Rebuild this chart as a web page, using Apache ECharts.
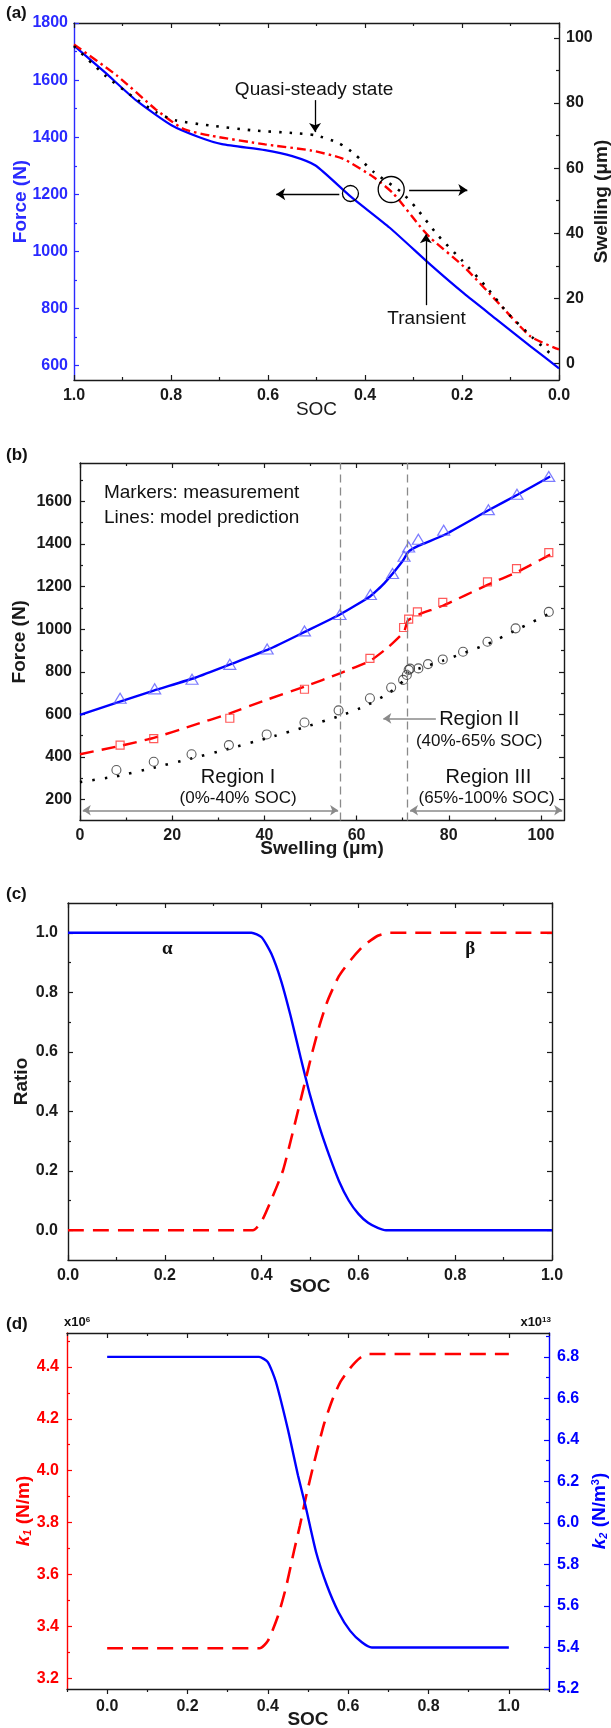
<!DOCTYPE html>
<html>
<head>
<meta charset="utf-8">
<script src="https://cdn.jsdelivr.net/npm/echarts@6/dist/echarts.min.js"></script>
<style>
  html, body { margin: 0; padding: 0; background: #fff; }
  #main { width: 611px; height: 1728px; }
</style>
</head>
<body>
<div id="main"></div>
<script>
// ---- (a) force + swelling vs SOC ----
var aSoc = [1.0, 0.936, 0.871, 0.799, 0.743, 0.695, 0.606, 0.55, 0.502, 0.43, 0.349, 0.264, 0.196, 0.127, 0.058, 0.0];
var aForce = [1721, 1627, 1528, 1442, 1401, 1376, 1355, 1334, 1301, 1193, 1083, 952, 853, 760, 667, 591];
var aSocTr = [1.0, 0.912, 0.831, 0.775, 0.719, 0.606, 0.51, 0.446, 0.382, 0.341, 0.285, 0.264, 0.196, 0.127, 0.058, 0.0];
var aSwellTr = [98.0, 88.5, 78.0, 72.1, 70.0, 67.3, 65.4, 62.9, 57.2, 52.1, 41.8, 38.4, 29.7, 18.9, 8.2, 4.3];
var aSocQs = [1.0, 0.936, 0.88, 0.831, 0.791, 0.719, 0.631, 0.55, 0.502, 0.454, 0.422, 0.382, 0.325, 0.293, 0.25, 0.199, 0.151, 0.106, 0.055, 0.02];
var aSwellQs = [97.5, 88.5, 82.1, 77.2, 74.7, 73.1, 71.6, 70.8, 70.1, 67.7, 64.4, 58.8, 52.6, 47.5, 39.4, 31.5, 23.7, 15.5, 8.0, 3.3];

// ---- (b) force vs swelling, markers + model lines ----
var bTriSw = [8.7, 16.2, 24.3, 32.5, 40.6, 48.7, 56.4, 63.0, 67.8, 70.3, 71.3, 73.4, 78.9, 88.6, 94.8, 101.7];
var bTriF = [676, 720, 765, 835, 907, 992, 1069, 1163, 1261, 1342, 1386, 1422, 1464, 1561, 1633, 1717];
var bSqSw = [8.7, 16.0, 32.5, 48.7, 62.9, 70.2, 71.3, 73.2, 78.7, 88.4, 94.7, 101.7];
var bSqF = [456, 486, 582, 718, 863, 1008, 1047, 1081, 1126, 1222, 1284, 1359];
var bCirSw = [7.9, 16.0, 24.2, 32.3, 40.5, 48.7, 56.1, 62.9, 67.5, 70.1, 70.9, 71.3, 71.6, 73.4, 75.5, 78.7, 83.1, 88.4, 94.5, 101.7];
var bCirF = [339, 378, 413, 456, 506, 562, 619, 676, 726, 762, 785, 809, 815, 816, 836, 858, 894, 941, 1004, 1081];
var bBlueSw = [0, 8, 16, 25, 33, 41, 49, 56.4, 63, 66, 70, 71.2, 73.5, 79, 88.6, 95, 102];
var bBlueF = [598, 655, 712, 772, 838, 906, 990, 1069, 1155, 1215, 1320, 1362, 1392, 1442, 1558, 1632, 1717];
var bRedSw = [0, 8.7, 16, 24, 32.5, 40, 48.7, 56.4, 62.9, 67, 70.3, 71.1, 73.5, 78.7, 88.4, 95, 102];
var bRedF = [413, 452, 490, 545, 605, 665, 730, 793, 851, 918, 988, 1040, 1069, 1110, 1208, 1270, 1350];
var bBlackSw = [0, 8, 16, 24, 32, 40.5, 48.7, 56.4, 62, 67, 70.3, 71.2, 73.5, 78.7, 88.4, 95, 102];
var bBlackF = [282, 310, 350, 392, 437, 488, 540, 593, 640, 700, 760, 800, 815, 852, 930, 1000, 1075];
var bDivide = [56.4, 71.1];

// ---- (c) phase ratio vs SOC ----
var cSocA = [0, 0.379, 0.40, 0.42, 0.44, 0.46, 0.48, 0.50, 0.52, 0.54, 0.56, 0.58, 0.60, 0.62, 0.64, 0.657, 1.0];
var cAlpha = [1, 1, 0.985, 0.93, 0.84, 0.72, 0.585, 0.455, 0.345, 0.25, 0.165, 0.1, 0.055, 0.025, 0.008, 0, 0];
var cSocB = [0, 0.382, 0.40, 0.423, 0.444, 0.46, 0.475, 0.49, 0.505, 0.52, 0.536, 0.56, 0.585, 0.61, 0.64, 0.665, 1.0];
var cBeta = [0, 0, 0.03, 0.114, 0.2, 0.3, 0.4, 0.5, 0.6, 0.69, 0.77, 0.855, 0.91, 0.955, 0.99, 1, 1];

// ---- (d) k1 / k2 vs SOC ----
var dSoc1 = [0, 0.38, 0.40, 0.425, 0.445, 0.465, 0.48, 0.495, 0.515, 0.54, 0.56, 0.58, 0.605, 0.63, 0.65, 1.0];
var dK1 = [3.317, 3.317, 3.345, 3.44, 3.55, 3.69, 3.79, 3.9, 4.03, 4.18, 4.27, 4.34, 4.395, 4.435, 4.449, 4.449];
var dSoc2 = [0, 0.378, 0.40, 0.42, 0.45, 0.475, 0.494, 0.52, 0.547, 0.576, 0.605, 0.634, 0.659, 1.0];
var dK2 = [6.80, 6.80, 6.775, 6.68, 6.45, 6.23, 6.08, 5.86, 5.70, 5.57, 5.48, 5.425, 5.40, 5.40];

// tick values
var socMajor = [0, 0.2, 0.4, 0.6, 0.8, 1.0];
var socMinor = [0.1, 0.3, 0.5, 0.7, 0.9];
var socMinorD = [-0.1, 0.1, 0.3, 0.5, 0.7, 0.9, 1.1];
var aForceMajor = [600, 800, 1000, 1200, 1400, 1600, 1800];
var aForceMinor = [700, 900, 1100, 1300, 1500, 1700];
var aSwellMajor = [0, 20, 40, 60, 80, 100];
var aSwellMinor = [10, 30, 50, 70, 90];
var bSwMajor = [0, 20, 40, 60, 80, 100];
var bSwMinor = [10, 30, 50, 70, 90];
var bForceMajor = [200, 400, 600, 800, 1000, 1200, 1400, 1600];
var bForceMinor = [300, 500, 700, 900, 1100, 1300, 1500, 1700];
var cRatioMajor = [0, 0.2, 0.4, 0.6, 0.8, 1.0];
var cRatioMinor = [0.1, 0.3, 0.5, 0.7, 0.9];
var dK1Major = [3.2, 3.4, 3.6, 3.8, 4.0, 4.2, 4.4];
var dK1Minor = [3.3, 3.5, 3.7, 3.9, 4.1, 4.3, 4.5];
var dK2Major = [5.2, 5.4, 5.6, 5.8, 6.0, 6.2, 6.4, 6.6, 6.8];
var dK2Minor = [5.3, 5.5, 5.7, 5.9, 6.1, 6.3, 6.5, 6.7, 6.9];

var FONT = 'Liberation Sans, Arial, Helvetica, sans-serif';
var BLUE = '#0000ff', RED = '#ff0000', INK = '#1a1a1a', GRAY = '#8a8a8a';

function zip(xs, ys) {
  return xs.map(function (x, i) { return [x, ys[i]]; });
}

var xAxes = [], yAxes = [];

// one axis (line / ticks / labels / name); minor axes only draw short ticks
function addAxis(list, o) {
  var col = o.color || INK;
  list.push({
    type: 'value', gridIndex: o.grid, position: o.pos,
    min: o.min, max: o.max, inverse: !!o.inverse,
    splitLine: { show: false },
    axisLine: { show: !o.minor, onZero: false, lineStyle: { color: col, width: 1.4 } },
    axisTick: {
      show: true, inside: !o.outside, length: o.minor ? 3 : 5,
      customValues: o.ticks, lineStyle: { color: col, width: 1.2 }
    },
    axisLabel: o.labels ? {
      show: true, customValues: o.labels, margin: o.margin,
      formatter: function (v) { return v.toFixed(o.dec); },
      color: o.labelColor || col, fontFamily: FONT, fontWeight: 'bold', fontSize: 16
    } : { show: false },
    name: o.name || '', nameLocation: 'middle', nameGap: o.gap || 0,
    nameRotate: o.rot, nameMoveOverlap: false,
    nameTextStyle: Object.assign({
      color: o.nameColor || col, fontFamily: FONT, fontWeight: o.nameWeight || 'bold', fontSize: 19
    }, o.nameStyle || {})
  });
  return list.length - 1;
}

// full box: bottom/top x and left/right y, major + minor ticks
function box(g, o) {
  var ax = {};
  ax.x = addAxis(xAxes, Object.assign({ grid: g, pos: 'bottom', ticks: o.xMajor, labels: o.xMajor,
    dec: o.xDec, margin: o.xMargin, outside: o.xOut }, o.x));
  addAxis(xAxes, { grid: g, pos: 'bottom', min: o.x.min, max: o.x.max, inverse: o.x.inverse,
    minor: true, ticks: o.xMinor, outside: o.xOut });
  addAxis(xAxes, { grid: g, pos: 'top', min: o.x.min, max: o.x.max, inverse: o.x.inverse, ticks: o.xMajor });
  addAxis(xAxes, { grid: g, pos: 'top', min: o.x.min, max: o.x.max, inverse: o.x.inverse, minor: true, ticks: o.xMinor });
  ax.yL = addAxis(yAxes, Object.assign({ grid: g, pos: 'left', ticks: o.yMajor, labels: o.yMajor,
    dec: o.yDec, margin: o.yMargin, rot: 90 }, o.yL));
  addAxis(yAxes, { grid: g, pos: 'left', min: o.yL.min, max: o.yL.max, minor: true, ticks: o.yMinor, color: o.yL.color });
  var r = o.yR || { min: o.yL.min, max: o.yL.max };
  ax.yR = addAxis(yAxes, Object.assign({ grid: g, pos: 'right', ticks: o.yRMajor || o.yMajor,
    labels: o.yR ? o.yRMajor : null, dec: o.yRDec, margin: o.yRMargin, rot: 90 }, r));
  addAxis(yAxes, { grid: g, pos: 'right', min: r.min, max: r.max, minor: true,
    ticks: o.yRMinor || o.yMinor, color: r.color });
  return ax;
}

var grids = [
  { left: 74, right: 52, top: 23, height: 357 },
  { left: 80, right: 47, top: 463, height: 357.5 },
  { left: 68, right: 59, top: 903, height: 357 },
  { left: 67, right: 62, top: 1333, height: 356 }
];
grids.forEach(function (g) { g.outerBoundsMode = 'none'; g.containLabel = false; });

var A = box(0, {
  x: { min: 0, max: 1, inverse: true, name: 'SOC', gap: 20, nameWeight: 'normal' },
  xMajor: socMajor, xMinor: socMinor, xDec: 1, xMargin: 8,
  yL: { min: 550, max: 1800, color: '#2a2aff', name: 'Force (N)', gap: 44 },
  yMajor: aForceMajor, yMinor: aForceMinor, yDec: 0, yMargin: 6,
  yR: { min: -5.1, max: 104.6, name: 'Swelling (\u03bcm)', gap: 33 },
  yRMajor: aSwellMajor, yRMinor: aSwellMinor, yRDec: 0, yRMargin: 7
});
var B = box(1, {
  x: { min: 0, max: 105, name: 'Swelling (\u03bcm)', gap: 19 },
  xMajor: bSwMajor, xMinor: bSwMinor, xDec: 0, xMargin: 7,
  yL: { min: 102, max: 1780, name: 'Force (N)', gap: 51 },
  yMajor: bForceMajor, yMinor: bForceMinor, yDec: 0, yMargin: 8
});
var C = box(2, {
  x: { min: 0, max: 1, name: 'SOC', gap: 17 },
  xMajor: socMajor, xMinor: socMinor, xDec: 1, xMargin: 8,
  yL: { min: -0.1, max: 1.1, name: 'Ratio', gap: 37 },
  yMajor: cRatioMajor, yMinor: cRatioMinor, yDec: 1, yMargin: 10
});
var D = box(3, {
  x: { min: -0.1, max: 1.1, name: 'SOC', gap: 21 },
  xMajor: socMajor, xMinor: socMinorD, xDec: 1, xMargin: 10, xOut: true,
  yL: { min: 3.16, max: 4.53, color: RED, name: '{i|k}{s1|1} (N/m)', gap: 34,
    nameStyle: { rich: {
      i: { fontStyle: 'italic', fontWeight: 'bold', fontSize: 19, color: RED, fontFamily: FONT },
      s1: { fontStyle: 'italic', fontWeight: 'bold', fontSize: 11, color: RED, fontFamily: FONT, verticalAlign: 'bottom' }
    } } },
  yMajor: dK1Major, yMinor: dK1Minor, yDec: 1, yMargin: 8,
  yR: { min: 5.2, max: 6.915, color: BLUE, name: '{i|k}{s1|2} (N/m{s2|3})', gap: 41,
    nameStyle: { rich: {
      i: { fontStyle: 'italic', fontWeight: 'bold', fontSize: 19, color: BLUE, fontFamily: FONT },
      s1: { fontStyle: 'italic', fontWeight: 'bold', fontSize: 11, color: BLUE, fontFamily: FONT, verticalAlign: 'bottom' },
      s2: { fontWeight: 'bold', fontSize: 11, color: BLUE, fontFamily: FONT, verticalAlign: 'top' }
    } } },
  yRMajor: dK2Major, yRMinor: dK2Minor, yRDec: 1, yRMargin: 8
});

// annotations, kept in data coordinates
var aArrows = [
  [0.503, 1530, 0.503, 1418],   // quasi-steady state pointer
  [0.453, 1200, 0.583, 1200],   // left arrow -> force axis
  [0.309, 1215, 0.189, 1215],   // right arrow -> swelling axis
  [0.2745, 812, 0.2745, 1060]   // transient pointer
];
var aRings = [[0.43, 1203, 16], [0.346, 1217, 26]];
var bDouble = [[0.6, 150, 56.0, 150], [71.6, 150, 104.6, 150]];
var bSingle = [[77.2, 581, 65.8, 581]];

function textPt(x, y, txt, size, extra) {
  return {
    coord: [x, y], symbol: 'circle', symbolSize: 0,
    label: Object.assign({ show: true, position: 'inside', formatter: txt, color: '#111',
      fontFamily: FONT, fontSize: size, textBorderWidth: 0 }, extra || {})
  };
}

var line = function (o) {
  return Object.assign({ type: 'line', symbol: 'none', showSymbol: false, animation: false,
    smooth: 0.2, z: 3 }, o);
};
var marker = function (o) {
  return Object.assign({ type: 'scatter', animation: false, z: 4 }, o);
};

var series = [
  // (a)
  line({ xAxisIndex: A.x, yAxisIndex: A.yL, data: zip(aSoc, aForce),
    lineStyle: { color: BLUE, width: 2.2 },
    markLine: { silent: true, animation: false, symbol: ['none', 'arrow'], symbolSize: 9,
      label: { show: false }, lineStyle: { color: '#000', width: 1.3, type: 'solid' },
      data: aArrows.map(function (a) { return [{ coord: [a[0], a[1]] }, { coord: [a[2], a[3]] }]; }) },
    markPoint: { silent: true, animation: false,
      data: aRings.map(function (r) {
        return { coord: [r[0], r[1]], symbol: 'circle', symbolSize: r[2], label: { show: false },
          itemStyle: { color: 'rgba(0,0,0,0)', borderColor: '#000', borderWidth: 1.3 } };
      }).concat([
        textPt(0.505, 1567, 'Quasi-steady state', 19),
        textPt(0.273, 766, 'Transient', 19)
      ]) }
  }),
  line({ xAxisIndex: A.x, yAxisIndex: A.yR, data: zip(aSocTr, aSwellTr),
    lineStyle: { color: RED, width: 2.4, type: [9, 4, 2.5, 4] } }),
  line({ xAxisIndex: A.x, yAxisIndex: A.yR, data: zip(aSocQs, aSwellQs),
    lineStyle: { color: '#000', width: 2.6, type: [2.5, 8] } }),

  // (b)
  line({ xAxisIndex: B.x, yAxisIndex: B.yL, data: zip(bBlueSw, bBlueF), smooth: 0.15,
    lineStyle: { color: BLUE, width: 2.4 },
    markLine: { silent: true, animation: false, symbol: ['none', 'none'],
      label: { show: false }, lineStyle: { color: GRAY, width: 1.3, type: [8, 5] },
      data: bDivide.map(function (v) { return { xAxis: v }; })
        .concat(bDouble.map(function (a) {
          return [{ coord: [a[0], a[1]], symbol: 'arrow', symbolSize: 8, lineStyle: { type: 'solid', width: 1.6 } },
                  { coord: [a[2], a[3]], symbol: 'arrow', symbolSize: 8 }];
        }))
        .concat(bSingle.map(function (a) {
          return [{ coord: [a[0], a[1]], symbol: 'none', lineStyle: { type: 'solid', width: 1.6 } },
                  { coord: [a[2], a[3]], symbol: 'arrow', symbolSize: 8 }];
        })) },
    markPoint: { silent: true, animation: false, data: [
      textPt(5.2, 1641, 'Markers: measurement', 19, { align: 'left' }),
      textPt(5.2, 1523, 'Lines: model prediction', 19, { align: 'left' }),
      textPt(34.3, 303, 'Region I', 20),
      textPt(34.3, 205, '(0%-40% SOC)', 17),
      textPt(86.6, 575, 'Region II', 20),
      textPt(86.6, 472, '(40%-65% SOC)', 17),
      textPt(88.6, 303, 'Region III', 20),
      textPt(88.2, 205, '(65%-100% SOC)', 17)
    ] }
  }),
  line({ xAxisIndex: B.x, yAxisIndex: B.yL, data: zip(bRedSw, bRedF), smooth: 0.15,
    lineStyle: { color: RED, width: 2.4, type: [14, 8] } }),
  line({ xAxisIndex: B.x, yAxisIndex: B.yL, data: zip(bBlackSw, bBlackF), smooth: 0.15,
    lineStyle: { color: '#000', width: 2.6, type: [2.5, 10] } }),
  marker({ xAxisIndex: B.x, yAxisIndex: B.yL, data: zip(bTriSw, bTriF), symbol: 'triangle',
    symbolSize: [12, 10], itemStyle: { color: 'rgba(0,0,0,0)', borderColor: '#5b5bff', borderWidth: 1.2 } }),
  marker({ xAxisIndex: B.x, yAxisIndex: B.yL, data: zip(bSqSw, bSqF), symbol: 'rect',
    symbolSize: 8, itemStyle: { color: 'rgba(0,0,0,0)', borderColor: '#ff3030', borderWidth: 1.2 } }),
  marker({ xAxisIndex: B.x, yAxisIndex: B.yL, data: zip(bCirSw, bCirF), symbol: 'circle',
    symbolSize: 9, itemStyle: { color: 'rgba(0,0,0,0)', borderColor: '#333', borderWidth: 1.1 } }),

  // (c)
  line({ xAxisIndex: C.x, yAxisIndex: C.yL, data: zip(cSocA, cAlpha),
    lineStyle: { color: BLUE, width: 2.4 },
    markPoint: { silent: true, animation: false, data: [
      textPt(0.205, 0.945, '\u03b1', 19, { fontFamily: 'Liberation Serif, Times New Roman, serif', fontWeight: 'bold' }),
      textPt(0.831, 0.945, '\u03b2', 19, { fontFamily: 'Liberation Serif, Times New Roman, serif', fontWeight: 'bold' })
    ] } }),
  line({ xAxisIndex: C.x, yAxisIndex: C.yL, data: zip(cSocB, cBeta),
    lineStyle: { color: RED, width: 2.6, type: [16, 9] } }),

  // (d)
  line({ xAxisIndex: D.x, yAxisIndex: D.yL, data: zip(dSoc1, dK1),
    lineStyle: { color: RED, width: 2.6, type: [16, 9] } }),
  line({ xAxisIndex: D.x, yAxisIndex: D.yR, data: zip(dSoc2, dK2),
    lineStyle: { color: BLUE, width: 2.4 } })
];

var panelFont = 'bold 17px ' + FONT;
var chart = echarts.init(document.getElementById('main'), null, { renderer: 'canvas' });
chart.setOption({
  animation: false,
  backgroundColor: '#fff',
  textStyle: { fontFamily: FONT },
  grid: grids,
  xAxis: xAxes,
  yAxis: yAxes,
  series: series,
  graphic: [
    { type: 'text', left: 6, top: 5, style: { text: '(a)', font: panelFont, fill: '#111' } },
    { type: 'text', left: 6, top: 447, style: { text: '(b)', font: panelFont, fill: '#111' } },
    { type: 'text', left: 6, top: 886, style: { text: '(c)', font: panelFont, fill: '#111' } },
    { type: 'text', left: 6, top: 1316, style: { text: '(d)', font: panelFont, fill: '#111' } },
    { type: 'text', left: 64, top: 1316, style: { text: 'x10{s|6}', font: 'bold 13px ' + FONT, fill: '#111',
      rich: { s: { fontSize: 8, fontWeight: 'bold', verticalAlign: 'top', fill: '#111' } } } },
    { type: 'text', right: 60, top: 1316, style: { text: 'x10{s|13}', font: 'bold 13px ' + FONT, fill: '#111',
      rich: { s: { fontSize: 8, fontWeight: 'bold', verticalAlign: 'top', fill: '#111' } } } }
  ]
});
</script>
</body>
</html>
